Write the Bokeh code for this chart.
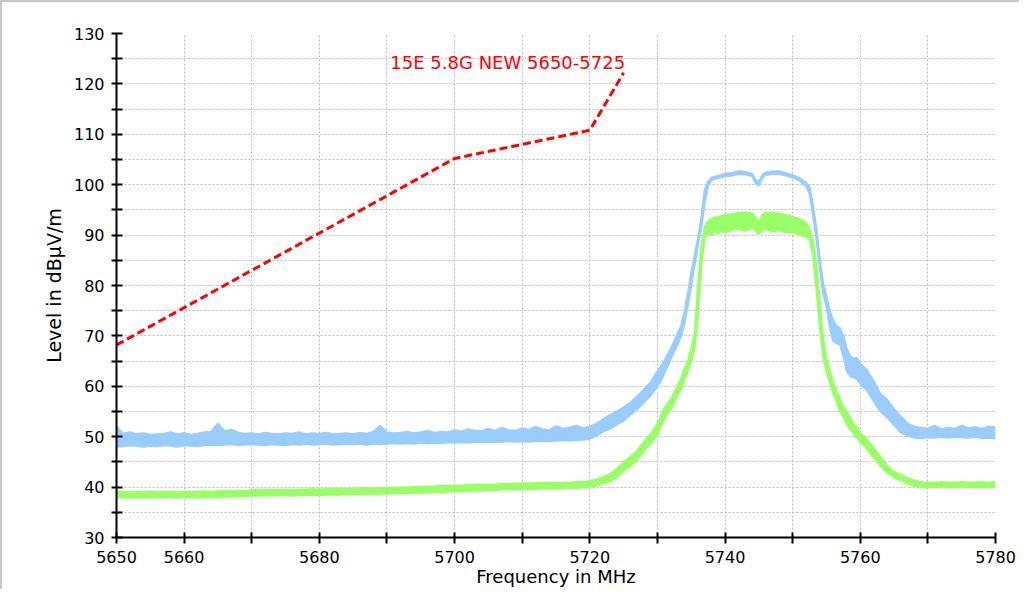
from bokeh.plotting import figure
from bokeh.models import FixedTicker, Range1d, Label
from bokeh.embed import file_html
from bokeh.resources import INLINE

# ---------------- data ----------------
freq = [5650, 5651, 5652, 5653, 5654, 5655, 5656, 5657, 5658, 5659,
        5660, 5661, 5662, 5663, 5664, 5665, 5666, 5667, 5668, 5669,
        5670, 5671, 5672, 5673, 5674, 5675, 5676, 5677, 5678, 5679,
        5680, 5681, 5682, 5683, 5684, 5685, 5686, 5687, 5688, 5689,
        5690, 5691, 5692, 5693, 5694, 5695, 5696, 5697, 5698, 5699,
        5700, 5701, 5702, 5703, 5704, 5705, 5706, 5707, 5708, 5709,
        5710, 5711, 5712, 5713, 5714, 5715, 5716, 5717, 5718, 5719,
        5720, 5721, 5722, 5723, 5724, 5725, 5726, 5727, 5728, 5729,
        5730, 5730.5, 5731, 5731.5, 5732, 5732.5, 5733, 5733.5, 5734, 5734.5,
        5735, 5735.5, 5736, 5736.5, 5737, 5737.5, 5738, 5738.5, 5739, 5739.5,
        5740, 5741, 5742, 5743, 5744, 5744.5, 5745, 5745.5, 5746, 5747,
        5748, 5749, 5750, 5751, 5752,
        5752.5, 5753, 5753.5, 5754, 5754.5, 5755, 5755.5, 5756, 5756.5, 5757,
        5757.5, 5758, 5758.5, 5759, 5759.5, 5760,
        5761, 5762, 5763, 5764, 5765, 5766, 5767, 5768, 5769, 5770,
        5771, 5772, 5773, 5774, 5775, 5776, 5777, 5778, 5779, 5780]

blue_hi = [52.0, 50.6, 50.9, 50.5, 50.7, 50.4, 50.5, 50.6, 50.9, 50.5,
           50.7, 50.4, 50.6, 50.9, 51.0, 52.6, 51.1, 51.4, 50.8, 50.6,
           50.7, 50.5, 50.8, 50.6, 50.5, 50.7, 50.6, 50.9, 50.5, 50.7,
           50.6, 50.8, 50.5, 50.6, 50.7, 50.5, 50.8, 50.6, 51.0, 52.2,
           50.9, 50.7, 50.8, 51.0, 50.7, 50.9, 51.2, 50.8, 51.0, 50.9,
           51.3, 51.0, 51.5, 51.2, 51.1, 51.6, 51.2, 51.8, 51.3, 51.2,
           51.7, 51.4, 52.0, 51.5, 51.3, 52.1, 51.6, 51.8, 52.2, 51.7,
           52.0, 52.6, 53.5, 54.3, 55.0, 55.8, 56.8, 58.0, 59.4, 60.8,
           63.0, 63.9, 65.0, 66.3, 67.5, 69.0, 70.5, 72.0, 74.8, 78.5,
           82.5, 86.0, 89.5, 93.5, 99.0, 100.6, 101.4, 101.6, 101.8, 102.0,
           102.2, 102.3, 102.7, 102.5, 102.2, 101.0, 100.6, 101.9, 102.4, 102.6,
           102.7, 102.3, 101.9, 101.3, 100.4,
           99.6, 96.0, 91.5, 85.5, 80.5, 77.8, 75.0, 73.0, 72.0, 71.5,
           70.0, 67.5, 66.0, 65.5, 65.6, 64.5,
           63.2, 61.0, 58.5, 57.3, 55.5, 54.0, 52.6, 52.0, 51.8, 51.6,
           52.2, 51.5, 51.8, 51.6, 52.2, 51.7, 51.9, 51.6, 52.0, 51.9]

blue_lo = [48.0, 48.1, 48.3, 48.2, 48.0, 48.2, 48.1, 48.3, 48.2, 48.0,
           48.3, 48.2, 48.1, 48.3, 48.4, 48.3, 48.4, 48.5, 48.3, 48.4,
           48.5, 48.4, 48.3, 48.5, 48.4, 48.3, 48.5, 48.4, 48.6, 48.4,
           48.5, 48.6, 48.4, 48.5, 48.6, 48.5, 48.6, 48.4, 48.6, 48.5,
           48.6, 48.7, 48.6, 48.7, 48.6, 48.8, 48.7, 48.8, 48.7, 48.9,
           48.8, 48.9, 48.8, 49.0, 48.9, 49.0, 48.9, 49.0, 49.1, 49.0,
           49.1, 49.0, 49.1, 49.2, 49.1, 49.2, 49.3, 49.2, 49.3, 49.4,
           49.6, 50.2, 51.0, 51.6, 52.4, 53.2, 54.3, 55.5, 56.8, 58.2,
           60.0, 61.0, 62.5, 64.0, 65.5, 67.0, 68.3, 70.0, 72.5, 76.0,
           80.0, 84.0, 88.0, 91.5, 96.5, 99.8, 100.9, 101.1, 101.3, 101.5,
           101.7, 101.8, 102.1, 102.0, 101.7, 100.3, 99.8, 101.3, 101.9, 102.1,
           102.1, 101.8, 101.4, 100.8, 99.7,
           98.2, 94.0, 89.5, 83.5, 78.5, 75.8, 71.5, 69.0, 68.5, 68.3,
           66.0, 63.0, 62.0, 61.8, 61.5, 60.5,
           59.2, 57.0, 55.0, 53.8, 52.3, 50.8, 50.2, 49.8, 49.7, 49.9,
           49.8, 50.0, 49.8, 50.0, 49.9, 49.8, 50.0, 49.7, 49.8, 49.6]

green_hi = [39.2, 39.1, 39.0, 39.1, 39.0, 39.1, 39.0, 39.1, 39.1, 39.0,
            39.1, 39.0, 39.1, 39.2, 39.1, 39.2, 39.3, 39.2, 39.3, 39.3,
            39.4, 39.4, 39.5, 39.4, 39.4, 39.5, 39.4, 39.5, 39.5, 39.6,
            39.5, 39.6, 39.6, 39.7, 39.6, 39.7, 39.7, 39.8, 39.7, 39.8,
            39.8, 39.9, 39.9, 39.9, 40.0, 40.0, 40.1, 40.1, 40.2, 40.2,
            40.3, 40.3, 40.4, 40.4, 40.5, 40.5, 40.5, 40.6, 40.6, 40.7,
            40.7, 40.7, 40.8, 40.8, 40.8, 40.9, 40.8, 40.9, 41.0, 41.0,
            41.2, 41.5, 42.0, 42.6, 43.6, 45.0, 46.0, 47.2, 49.0, 50.5,
            52.5, 54.0, 55.5, 56.5, 57.5, 58.8, 60.3, 61.5, 63.5, 65.0,
            67.5, 70.5, 80.0, 88.0, 91.8, 92.8, 93.2, 93.5, 93.6, 93.8,
            94.0, 94.2, 94.4, 94.5, 94.3, 93.6, 92.5, 94.0, 94.4, 94.5,
            94.3, 94.0, 93.6, 93.2, 92.4,
            91.2, 88.8, 84.5, 77.0, 69.5, 65.5, 63.0, 60.8, 59.2, 57.5,
            56.0, 55.0, 53.8, 52.6, 51.8, 50.8,
            49.4, 47.8, 46.0, 44.2, 43.0, 42.4, 41.8, 41.3, 41.0, 40.9,
            40.9, 41.0, 40.9, 40.9, 41.0, 40.9, 40.9, 41.0, 40.9, 41.0]

green_lo = [38.0, 38.0, 37.9, 38.0, 37.9, 38.0, 37.9, 38.0, 38.0, 37.9,
            38.0, 38.0, 37.9, 38.0, 38.0, 38.0, 38.1, 38.1, 38.2, 38.2,
            38.3, 38.3, 38.4, 38.3, 38.4, 38.4, 38.3, 38.4, 38.4, 38.5,
            38.4, 38.5, 38.5, 38.5, 38.6, 38.6, 38.6, 38.7, 38.6, 38.7,
            38.7, 38.8, 38.8, 38.8, 38.9, 38.9, 38.9, 39.0, 39.0, 39.1,
            39.2, 39.2, 39.3, 39.3, 39.3, 39.4, 39.4, 39.5, 39.5, 39.5,
            39.6, 39.6, 39.6, 39.7, 39.7, 39.7, 39.7, 39.8, 39.8, 39.9,
            40.0, 40.3, 40.7, 41.2, 42.0, 43.2, 44.2, 45.4, 47.2, 48.6,
            50.5, 52.0, 53.5, 54.5, 55.5, 56.8, 58.3, 59.5, 61.3, 63.0,
            65.0, 67.5, 74.0, 84.0, 89.5, 90.3, 90.0, 90.8, 90.3, 91.0,
            90.5, 91.0, 91.3, 90.8, 91.4, 90.9, 90.2, 91.0, 91.2, 90.7,
            91.0, 90.5, 90.6, 90.1, 89.6,
            89.3, 86.0, 79.5, 72.0, 66.0, 63.0, 60.8, 58.5, 57.0, 55.0,
            54.0, 52.5, 51.5, 50.6, 49.8, 49.0,
            47.6, 45.8, 44.2, 42.8, 41.9, 41.3, 40.7, 40.2, 40.0, 40.0,
            40.0, 40.1, 40.0, 39.9, 40.0, 40.0, 39.9, 40.0, 40.0, 40.0]

limit_freq = [5650, 5700, 5720, 5725]
limit_level = [68.2, 105.2, 110.8, 122.2]
limit_name = "15E 5.8G NEW 5650-5725"

x_ticks = [5650, 5660, 5670, 5680, 5690, 5700, 5710, 5720, 5730, 5740, 5750, 5760, 5770, 5780]
x_tick_labels = ["5650", "5660", "", "5680", "", "5700", "", "5720", "", "5740", "", "5760", "", "5780"]
y_ticks = [30, 35, 40, 45, 50, 55, 60, 65, 70, 75, 80, 85, 90, 95, 100, 105, 110, 115, 120, 125, 130]
y_tick_labels = ["30", "", "40", "", "50", "", "60", "", "70", "", "80", "", "90", "", "100", "", "110", "", "120", "", "130"]

BLUE = "#99ccff"
GREEN = "#99ff66"
FONT = "DejaVu Sans"

# ---------------- figure ----------------
p = figure(width=1019, height=589, output_backend="svg", toolbar_location=None,
           x_range=Range1d(5650, 5780), y_range=Range1d(30, 130),
           min_border_left=114, min_border_right=26, min_border_top=31, min_border_bottom=54)
p.styles = {"border-left": "2px solid #c8c8c8", "border-top": "2px solid #c8c8c8"}
p.background_fill_color = "white"
p.border_fill_color = "white"
p.outline_line_color = None

p.varea(x=freq, y1=blue_lo, y2=blue_hi, fill_color=BLUE)
p.line(freq, blue_hi, line_color=BLUE, line_width=2)
p.line(freq, blue_lo, line_color=BLUE, line_width=2)
p.varea(x=freq, y1=green_lo, y2=green_hi, fill_color=GREEN)
p.line(freq, green_hi, line_color=GREEN, line_width=2)
p.line(freq, green_lo, line_color=GREEN, line_width=2)

p.line(limit_freq, limit_level, line_color="#ff0000", line_width=3, line_dash="8 4")
p.add_layout(Label(x=5690.5, y=124.2, text=limit_name, text_color="#ff0000",
                   text_font=FONT, text_font_size="18px", text_baseline="middle"))

p.xaxis.ticker = FixedTicker(ticks=x_ticks)
p.xaxis.major_label_overrides = {t: s for t, s in zip(x_ticks, x_tick_labels)}
p.yaxis.ticker = FixedTicker(ticks=y_ticks)
p.yaxis.major_label_overrides = {t: s for t, s in zip(y_ticks, y_tick_labels)}

p.xgrid.ticker = FixedTicker(ticks=x_ticks)
p.ygrid.ticker = FixedTicker(ticks=y_ticks)
p.grid.grid_line_color = "#bbbbbb"
p.grid.grid_line_dash = "2 2"
p.grid.grid_line_width = 1

p.axis.axis_line_color = "black"
p.axis.axis_line_width = 2
p.axis.major_tick_line_width = 2
p.axis.major_tick_line_color = "black"
p.axis.minor_tick_line_color = None
p.xaxis.major_tick_in = 5
p.xaxis.major_tick_out = 6
p.yaxis.major_tick_in = 6
p.yaxis.major_tick_out = 5
p.axis.major_label_text_font = FONT
p.axis.major_label_text_font_size = "16px"
p.axis.major_label_text_color = "black"
p.xaxis.major_label_standoff = 7
p.yaxis.major_label_standoff = 7

p.xaxis.axis_label = "Frequency in MHz"
p.yaxis.axis_label = "Level in dBµV/m"
p.axis.axis_label_text_font = FONT
p.xaxis.axis_label_text_font_size = "18px"
p.yaxis.axis_label_text_font_size = "19px"
p.axis.axis_label_text_font_style = "normal"
p.axis.axis_label_text_color = "black"
p.xaxis.axis_label_standoff = 0
p.yaxis.axis_label_standoff = 6

open("out.html", "w").write(file_html(p, INLINE))
